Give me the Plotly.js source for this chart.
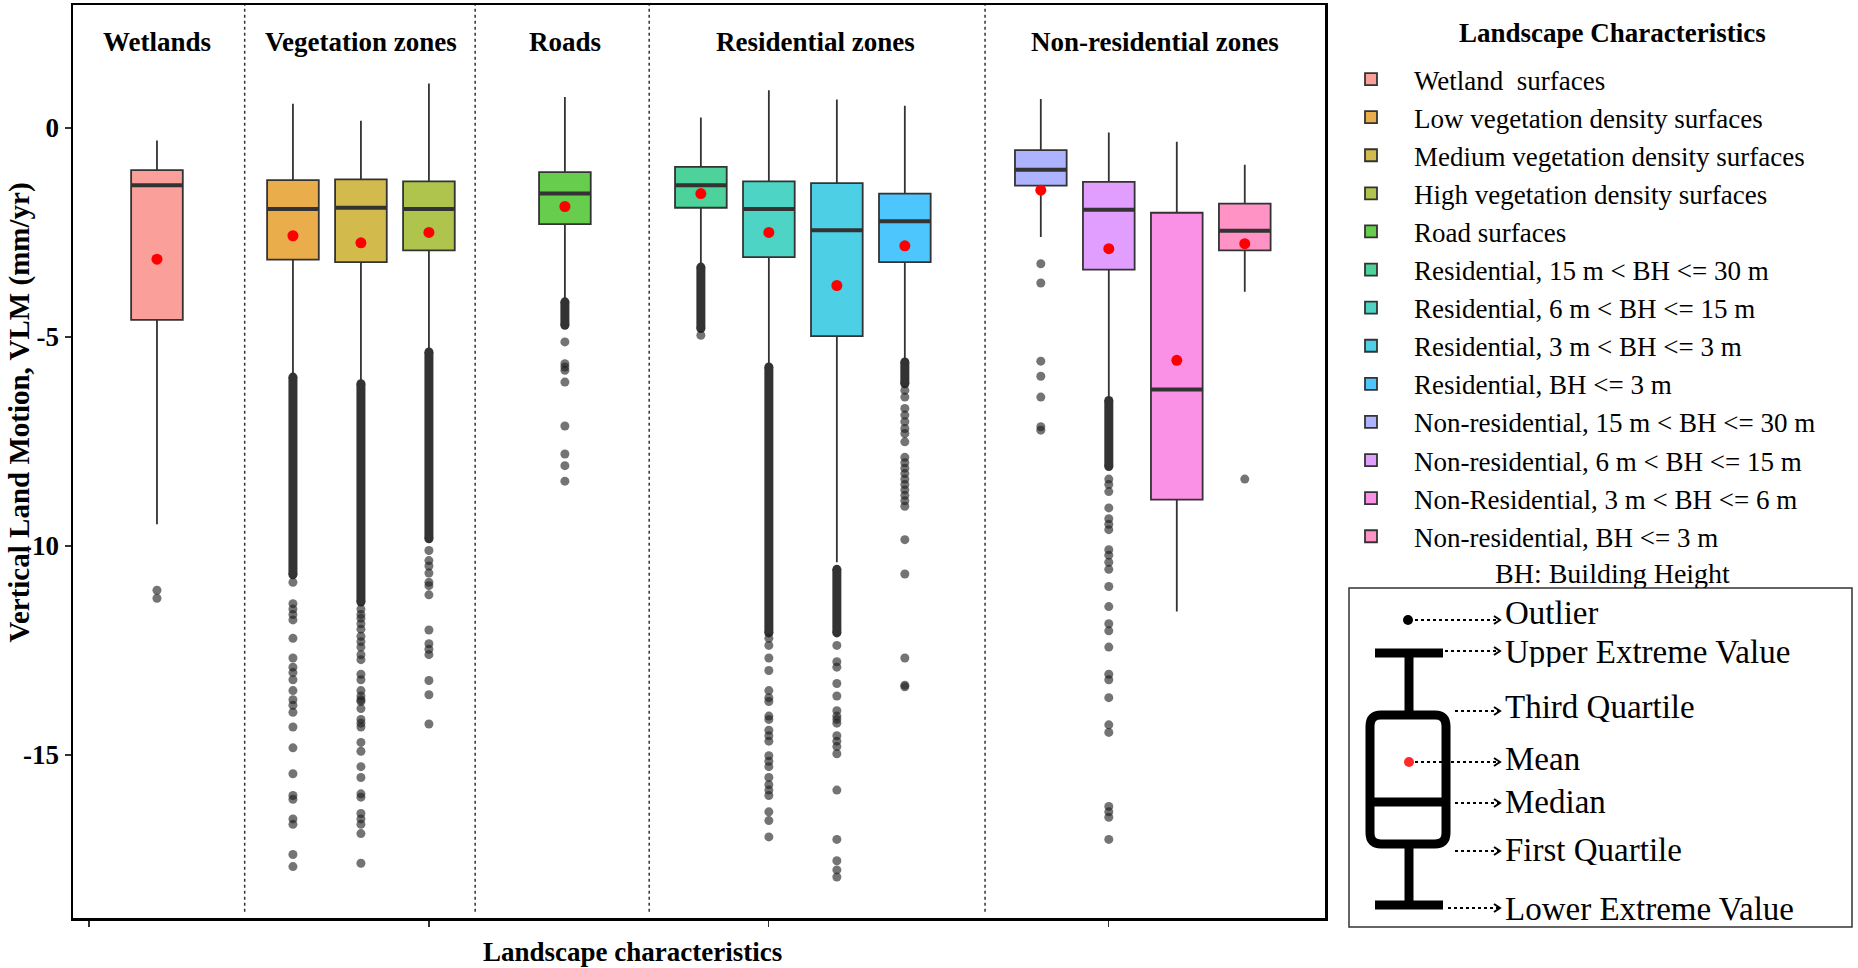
<!DOCTYPE html>
<html>
<head>
<meta charset="utf-8">
<script src="https://cdn.plot.ly/plotly-3.0.1.min.js"></script>
<style>html,body{margin:0;padding:0;background:#fff;}#chart{width:1858px;height:968px;}</style>
</head>
<body>
<div id="chart"></div>
<script>
// ---------------- DATA ----------------
const categories = [
  "Wetland\u00a0 surfaces",
  "Low vegetation density surfaces",
  "Medium vegetation density surfaces",
  "High vegetation density surfaces",
  "Road surfaces",
  "Residential, 15 m < BH <= 30 m",
  "Residential, 6 m < BH <= 15 m",
  "Residential, 3 m < BH <= 3 m",
  "Residential, BH <= 3 m",
  "Non-residential, 15 m < BH <= 30 m",
  "Non-residential, 6 m < BH <= 15 m",
  "Non-Residential, 3 m < BH <= 6 m",
  "Non-residential, BH <= 3 m"
];
const positions = [1, 3, 4, 5, 7, 9, 10, 11, 12, 14, 15, 16, 17];
const upperWhisker = [-0.30, 0.58, 0.17, 1.06, 0.74, 0.25, 0.90, 0.68, 0.53, 0.69, -0.11, -0.33, -0.88];
const q3Values     = [-1.01, -1.25, -1.23, -1.28, -1.06, -0.93, -1.28, -1.32, -1.57, -0.53, -1.29, -2.03, -1.81];
const medianValues = [-1.37, -1.94, -1.91, -1.94, -1.57, -1.37, -1.94, -2.45, -2.23, -1.00, -1.96, -6.26, -2.46];
const q1Values     = [-4.59, -3.15, -3.21, -2.93, -2.30, -1.91, -3.09, -4.98, -3.21, -1.38, -3.39, -8.89, -2.93];
const lowerWhisker = [-9.48, -5.92, -6.08, -5.32, -4.12, -3.28, -5.68, -10.39, -5.55, -2.61, -6.45, -11.57, -3.92];
const meanValues   = [-3.14, -2.58, -2.75, -2.50, -1.88, -1.57, -2.50, -3.77, -2.82, -1.49, -2.89, -5.56, -2.77];
const boxColors = ["#FA9F99", "#EAAD4C", "#D2BA4D", "#AFC44D", "#66CD4D", "#4DD29B", "#4DD4C4",
                   "#4DCFE5", "#4DC5FD", "#AEB3FF", "#E29EFE", "#FB91E7", "#FF93C5"];

// individual outliers
const outlierPoints = [
  [-11.06, -11.25],
  [-10.87, -11.38, -11.51, -11.64, -11.77, -12.21, -12.68, -12.90, -13.03, -13.20, -13.46, -13.68, -13.81, -13.98,
   -14.33, -14.83, -15.45, -15.97, -16.06, -16.53, -16.66, -17.38, -17.67],
  [-11.51, -11.64, -11.73, -11.86, -11.99, -12.16, -12.29, -12.42, -12.60, -12.72, -13.07, -13.20, -13.46, -13.59,
   -13.68, -13.72, -13.89, -14.15, -14.24, -14.33, -14.70, -14.91, -15.28, -15.54, -15.93, -16.01, -16.40, -16.53,
   -16.66, -16.88, -17.59],
  [-10.11, -10.35, -10.48, -10.65, -10.87, -10.95, -11.17, -12.01, -12.34, -12.47, -12.60, -13.22, -13.56, -14.26],
  [-5.12, -5.64, -5.72, -5.80, -6.08, -7.13, -7.80, -8.08, -8.45],
  [-4.96],
  [-12.21, -12.38, -12.68, -12.98, -13.46, -13.63, -13.72, -14.07, -14.15, -14.41, -14.54, -14.67, -15.02, -15.15,
   -15.28, -15.54, -15.71, -15.84, -15.97, -16.36, -16.57, -16.96],
  [-12.38, -12.77, -12.90, -13.29, -13.59, -13.94, -14.07, -14.15, -14.24, -14.54, -14.67, -14.80, -14.97, -15.84,
   -17.02, -17.53, -17.75, -17.92],
  [-6.28, -6.44, -6.71, -6.87, -7.03, -7.19, -7.31, -7.51, -7.88, -8.01, -8.14, -8.27, -8.40, -8.53, -8.66, -8.79,
   -8.92, -9.05, -9.85, -10.67, -12.68, -13.33, -13.37],
  [-3.25, -3.71, -5.58, -5.94, -6.44, -7.15, -7.23],
  [-8.40, -8.53, -8.70, -9.09, -9.35, -9.48, -9.61, -10.09, -10.22, -10.39, -10.56, -10.97, -11.45, -11.86, -12.03,
   -12.42, -13.07, -13.20, -13.63, -14.28, -14.46, -16.23, -16.36, -16.49, -17.02],
  [],
  [-8.40]
];
// ranges where outliers are so dense they form a solid column [top, bottom]
const denseOutlierRanges = [
  [],
  [[-5.96, -10.69]],
  [[-6.12, -11.34]],
  [[-5.36, -9.83]],
  [[-4.16, -4.72]],
  [[-3.33, -4.80]],
  [[-5.72, -12.08]],
  [[-10.56, -12.08]],
  [[-5.60, -6.12]],
  [],
  [[-6.52, -8.10]],
  [],
  []
];
const groupLabels = ["Wetlands", "Vegetation zones", "Roads", "Residential zones", "Non-residential zones"];
const groupLabelPos = [1, 4, 7, 10.68, 15.68];
const separatorPos = [2.29, 5.68, 8.24, 13.18];
const yTickVals = [0, -5, -10, -15];
const yTickText = ["0", "-5", "-10", "-15"];
const xTickVals = [0, 5, 10, 15];
const keyLabels = ["Outlier", "Upper Extreme Value", "Third Quartile", "Mean", "Median", "First Quartile", "Lower Extreme Value"];

// ---------------- LAYOUT HELPERS ----------------
const FONT = "Liberation Serif, Times New Roman, serif";
const PLOT = {l: 73, r: 1325, t: 5, b: 918};
function px(x) { return (x - PLOT.l) / (PLOT.r - PLOT.l); }
function py(y) { return (PLOT.b - y) / (PLOT.b - PLOT.t); }

const traces = [];
// boxes
categories.forEach((name, i) => {
  traces.push({
    type: "box", name: name, x: [positions[i]],
    q1: [q1Values[i]], median: [medianValues[i]], q3: [q3Values[i]],
    lowerfence: [lowerWhisker[i]], upperfence: [upperWhisker[i]],
    boxpoints: false, width: 0.76, whiskerwidth: 0,
    fillcolor: boxColors[i], line: {color: "#333333", width: 1.8},
    hoverinfo: "skip", showlegend: true
  });
});
// thick median lines
categories.forEach((name, i) => {
  traces.push({
    type: "box", name: name + " median", x: [positions[i]],
    q1: [medianValues[i]], median: [medianValues[i]], q3: [medianValues[i]],
    lowerfence: [medianValues[i]], upperfence: [medianValues[i]],
    boxpoints: false, width: 0.76, whiskerwidth: 0,
    fillcolor: "rgba(0,0,0,0)", line: {color: "#333333", width: 4},
    hoverinfo: "skip", showlegend: false
  });
});
// dense outlier columns
const bx = [], by = [];
denseOutlierRanges.forEach((ranges, i) => {
  ranges.forEach(r => { bx.push(positions[i], positions[i], null); by.push(r[0], r[1], null); });
});
traces.push({type: "scatter", mode: "lines+markers", x: bx, y: by, showlegend: false, hoverinfo: "skip",
  line: {color: "#333333", width: 9}, marker: {color: "#333333", size: 9}});
// scattered outliers
const ox = [], oy = [];
outlierPoints.forEach((pts, i) => pts.forEach(v => { ox.push(positions[i]); oy.push(v); }));
traces.push({type: "scatter", mode: "markers", x: ox, y: oy, showlegend: false, hoverinfo: "skip",
  marker: {color: "rgba(30,30,30,0.62)", size: 9}});
// means
traces.push({type: "scatter", mode: "markers", x: positions, y: meanValues, showlegend: false, hoverinfo: "skip",
  marker: {color: "#FF0000", size: 11}});

// ---------------- SHAPES ----------------
const shapes = [];
separatorPos.forEach(s => shapes.push({type: "line", xref: "x", yref: "y", x0: s, x1: s, y0: -18.75, y1: 2.94,
  line: {color: "#333333", width: 1.5, dash: "dot"}}));
// key frame
shapes.push({type: "rect", xref: "paper", yref: "paper", x0: px(1349), x1: px(1852), y0: py(588), y1: py(927),
  line: {color: "#333333", width: 1.5}});
function hline(x0, x1, y, w, dash) { return {type: "line", xref: "paper", yref: "paper", x0: px(x0), x1: px(x1), y0: py(y), y1: py(y), line: {color: "#000", width: w, dash: dash || "solid"}}; }
function vline(x, y0, y1, w) { return {type: "line", xref: "paper", yref: "paper", x0: px(x), x1: px(x), y0: py(y0), y1: py(y1), line: {color: "#000", width: w}}; }
function circ(cx, cy, r, col) { return {type: "circle", xref: "paper", yref: "paper", x0: px(cx - r), x1: px(cx + r), y0: py(cy + r), y1: py(cy - r), fillcolor: col, line: {width: 0}}; }
function rr(x0, y0, x1, y1, r) {
  return "M" + px(x0 + r) + "," + py(y0) + " L" + px(x1 - r) + "," + py(y0) +
    " Q" + px(x1) + "," + py(y0) + " " + px(x1) + "," + py(y0 + r) +
    " L" + px(x1) + "," + py(y1 - r) + " Q" + px(x1) + "," + py(y1) + " " + px(x1 - r) + "," + py(y1) +
    " L" + px(x0 + r) + "," + py(y1) + " Q" + px(x0) + "," + py(y1) + " " + px(x0) + "," + py(y1 - r) +
    " L" + px(x0) + "," + py(y0 + r) + " Q" + px(x0) + "," + py(y0) + " " + px(x0 + r) + "," + py(y0) + " Z";
}
function chevron(xe, y) {
  return {type: "path", xref: "paper", yref: "paper",
    path: "M" + px(xe - 6) + "," + py(y - 4) + " L" + px(xe) + "," + py(y) + " L" + px(xe - 6) + "," + py(y + 4),
    line: {color: "#000", width: 2}};
}
// schematic boxplot
shapes.push(hline(1375, 1443, 653, 9));
shapes.push(vline(1409, 653, 713, 9));
shapes.push({type: "path", xref: "paper", yref: "paper", path: rr(1370, 715, 1446, 844, 11), line: {color: "#000", width: 9}});
shapes.push(hline(1370, 1446, 802, 9));
shapes.push(vline(1409, 846, 905, 9));
shapes.push(hline(1375, 1443, 905, 9));
shapes.push(circ(1408, 620, 5, "#000"));
shapes.push(circ(1409, 762, 5, "#FF2A2A"));
// dotted arrows
const arrowStart = [1415, 1445, 1455, 1415, 1455, 1455, 1448];
const arrowY = [620, 651, 711, 762, 803, 851, 908];
arrowStart.forEach((xs, i) => { shapes.push(hline(xs, 1499, arrowY[i], 2, "dot")); shapes.push(chevron(1500, arrowY[i])); });

// ---------------- ANNOTATIONS ----------------
const annotations = [];
groupLabels.forEach((t, i) => annotations.push({xref: "x", yref: "y", x: groupLabelPos[i], y: 2.06, text: t, showarrow: false,
  xanchor: "center", yanchor: "middle", font: {family: FONT, size: 27, weight: "bold", color: "#000"}}));
annotations.push({xref: "paper", yref: "paper", x: px(19), y: py(348 * 1.185), text: "Vertical Land Motion, VLM (mm/yr)", textangle: -90,
  xanchor: "center", yanchor: "middle", showarrow: false, font: {family: FONT, size: 29, weight: "bold", color: "#000"}});
annotations.push({xref: "paper", yref: "paper", x: px(632), y: py(952), text: "Landscape characteristics",
  xanchor: "center", yanchor: "middle", showarrow: false, font: {family: FONT, size: 27, weight: "bold", color: "#000"}});
annotations.push({xref: "paper", yref: "paper", x: px(1612), y: py(33), text: "Landscape Characteristics",
  xanchor: "center", yanchor: "middle", showarrow: false, font: {family: FONT, size: 27, weight: "bold", color: "#000"}});
annotations.push({xref: "paper", yref: "paper", x: px(1612), y: py(573), text: "BH: Building Height", height: 30,
  xanchor: "center", yanchor: "middle", showarrow: false, font: {family: FONT, size: 28, color: "#000"}});
const keyLabelY = [613, 652, 707, 759, 802, 850, 909];
keyLabels.forEach((t, i) => annotations.push({xref: "paper", yref: "paper", x: px(1503), y: py(keyLabelY[i]), text: t,
  height: 30, xanchor: "left", yanchor: "middle", showarrow: false, font: {family: FONT, size: 33, color: "#000"}}));

const layout = {
  width: 1858, height: 968,
  margin: {l: PLOT.l, r: 1858 - PLOT.r, t: PLOT.t, b: 968 - PLOT.b},
  paper_bgcolor: "#fff", plot_bgcolor: "#fff",
  font: {family: FONT, color: "#000"},
  boxmode: "overlay",
  xaxis: {range: [-0.235, 18.18], tickvals: xTickVals, showticklabels: false, ticks: "outside", ticklen: 6,
    tickcolor: "#333", tickwidth: 1.2, showgrid: false, zeroline: false, showline: true, linewidth: 2.5,
    linecolor: "#000", mirror: true},
  yaxis: {range: [-18.9, 2.94], tickvals: yTickVals, ticktext: yTickText, ticks: "outside", ticklen: 6,
    tickcolor: "#333", tickwidth: 1.2, showgrid: false, zeroline: false, showline: true, linewidth: 2.5,
    linecolor: "#000", mirror: true, ticklabelstandoff: 0,
    tickfont: {family: FONT, size: 27, weight: "bold", color: "#000"}},
  legend: {x: px(1328), y: py(55), xanchor: "left", yanchor: "top", bgcolor: "rgba(0,0,0,0)", itemwidth: 76,
    font: {family: FONT, size: 27, color: "#000"}, tracegroupgap: 0},
  shapes: shapes, annotations: annotations, showlegend: true
};
Plotly.newPlot("chart", traces, layout, {displayModeBar: false, staticPlot: true});
</script>
</body>
</html>
